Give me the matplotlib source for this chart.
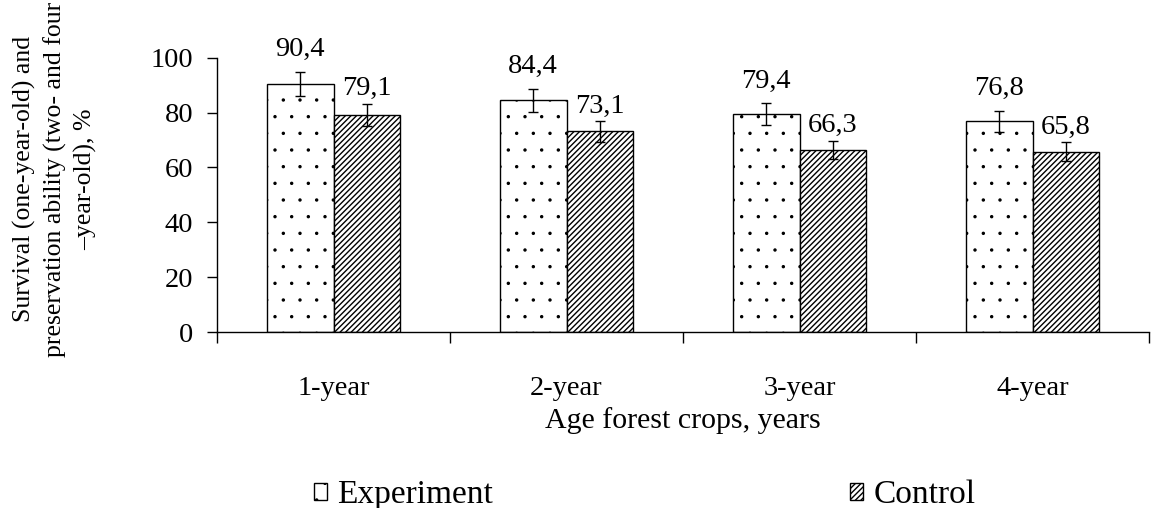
import matplotlib
matplotlib.use("Agg")
import matplotlib.pyplot as plt
import matplotlib.hatch
import numpy as np

plt.rcParams["font.family"] = ["Liberation Serif", "DejaVu Serif"]
plt.rcParams["hatch.linewidth"] = 1.0
# finer dots for the "." hatch, closer to the sparse dotted fill in the source
matplotlib.hatch.SmallFilledCircles.size = 0.06

# data
ages = ["1-year", "2-year", "3-year", "4-year"]
experiment = [90.4, 84.4, 79.4, 76.8]
control = [79.1, 73.1, 66.3, 65.8]
experiment_err = [4.5, 4.2, 4.0, 3.8]
control_err = [4.0, 3.7, 3.3, 3.3]
series_names = ["Experiment", "Control"]

fig = plt.figure(figsize=(11.55, 5.08), dpi=100)
ax = fig.add_axes([217 / 1155, 1 - 332 / 508, (1149 - 217) / 1155, (332 - 57.7) / 508])

x = np.arange(len(ages))
w = 0.286

bars_e = ax.bar(x - w / 2, experiment, w, color="white", edgecolor="black",
                linewidth=1.0, hatch=".", label=series_names[0], zorder=2)
bars_c = ax.bar(x + w / 2, control, w, color="white", edgecolor="black",
                linewidth=1.0, hatch="//////", label=series_names[1], zorder=2)

ax.errorbar(x - w / 2, experiment, yerr=experiment_err, fmt="none",
            ecolor="black", elinewidth=1.0, capsize=3.6, capthick=1.0, zorder=3)
ax.errorbar(x + w / 2, control, yerr=control_err, fmt="none",
            ecolor="black", elinewidth=1.0, capsize=3.6, capthick=1.0, zorder=3)

# value labels above the error bars, decimal comma
for xs, vals, errs, dy in [(x - w / 2, experiment, experiment_err, 7),
                           (x + w / 2, control, control_err, 2)]:
    for xi, v, e in zip(xs, vals, errs):
        ax.annotate(f"{v:.1f}".replace(".", ","), (xi, v + e),
                    xytext=(0, dy), textcoords="offset points",
                    ha="center", va="bottom", fontsize=20.5)

ax.set_xlim(-0.5, len(ages) - 0.5)
ax.set_ylim(0, 100)
ax.set_yticks([0, 20, 40, 60, 80, 100])
ax.tick_params(axis="y", direction="out", length=7, width=1, pad=10, labelsize=20.5)

# categories labelled at centres, ticks drawn at the group boundaries
ax.set_xticks(x)
ax.set_xticklabels(ages)
ax.set_xticks(np.arange(len(ages) + 1) - 0.5, minor=True)
ax.tick_params(axis="x", which="major", length=0, pad=32, labelsize=20.5)
ax.tick_params(axis="x", which="minor", direction="out", length=8, width=1)

for side in ["top", "right"]:
    ax.spines[side].set_visible(False)
ax.spines["left"].set_linewidth(1)
ax.spines["bottom"].set_linewidth(1)

ax.set_xlabel("Age forest crops, years", fontsize=21.5, labelpad=4)

fig.text(55 / 1155, 1 - 179 / 508,
         "Survival (one-year-old) and\npreservation ability (two- and four\n\u2013year-old), %",
         rotation=90, ha="center", va="center", multialignment="center",
         fontsize=18.5, linespacing=1.42)

fig.legend(handles=[bars_e, bars_c], labels=series_names,
           loc="center left", bbox_to_anchor=(314 / 1155, 1 - 495 / 508),
           ncol=2, frameon=False, fontsize=24, handlelength=0.4,
           handleheight=0.4, handletextpad=0.3, columnspacing=10.7,
           borderpad=0, borderaxespad=0)

fig.savefig("out.png", dpi=100)
